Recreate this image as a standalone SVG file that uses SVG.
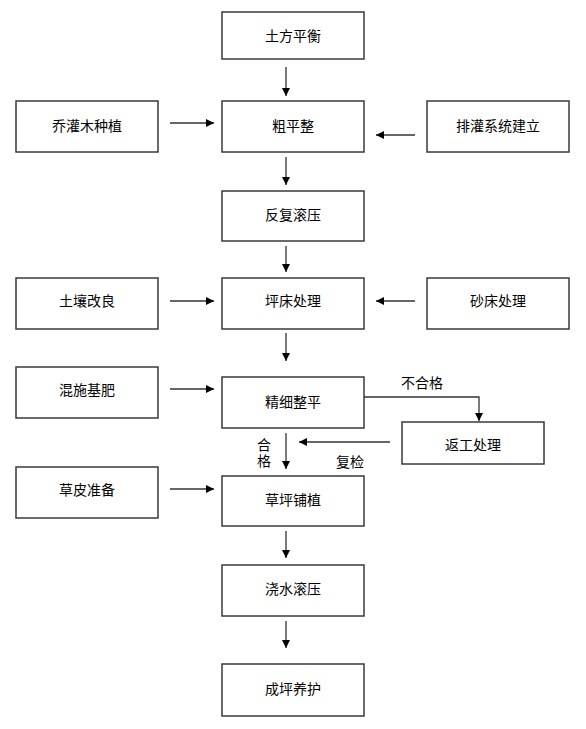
<svg xmlns="http://www.w3.org/2000/svg" width="586" height="729" viewBox="0 0 586 729">
<style>
.b{fill:#fff;stroke:#3a3a3a;stroke-width:1.5}
.t{font-family:"Liberation Sans","Noto Sans CJK SC",sans-serif;font-size:14px;fill:#000;text-anchor:middle;dominant-baseline:central}
.l{font-family:"Liberation Sans","Noto Sans CJK SC",sans-serif;font-size:14px;fill:#000}
.c{fill:none;stroke:#333;stroke-width:1.3}
</style>
<defs>
<marker id="a" viewBox="0 0 10 10" refX="10" refY="5" markerWidth="8" markerHeight="8" markerUnits="userSpaceOnUse" orient="auto"><path d="M0,0L10,5L0,10z" fill="#000"/></marker>
</defs>
<rect width="586" height="729" fill="#fff"/>
<g id="n1"><rect class="b" x="222" y="12" width="142" height="47"/><text class="t" x="293" y="36">土方平衡</text></g>
<g id="n2"><rect class="b" x="222" y="101" width="142" height="51"/><text class="t" x="293" y="126">粗平整</text></g>
<g id="n3"><rect class="b" x="16" y="101" width="142" height="51"/><text class="t" x="87" y="126">乔灌木种植</text></g>
<g id="n4"><rect class="b" x="427" y="101" width="142" height="51"/><text class="t" x="498" y="126">排灌系统建立</text></g>
<g id="n5"><rect class="b" x="222" y="191" width="142" height="50"/><text class="t" x="293" y="215">反复滚压</text></g>
<g id="n6"><rect class="b" x="16" y="278" width="142" height="51"/><text class="t" x="87" y="301">土壤改良</text></g>
<g id="n7"><rect class="b" x="222" y="278" width="142" height="51"/><text class="t" x="293" y="301">坪床处理</text></g>
<g id="n8"><rect class="b" x="427" y="278" width="142" height="51"/><text class="t" x="498" y="301">砂床处理</text></g>
<g id="n9"><rect class="b" x="16" y="367" width="142" height="51"/><text class="t" x="87" y="390">混施基肥</text></g>
<g id="n10"><rect class="b" x="222" y="377" width="142" height="51"/><text class="t" x="293" y="402">精细整平</text></g>
<g id="n11"><rect class="b" x="402" y="422" width="142" height="42"/><text class="t" x="473" y="445">返工处理</text></g>
<g id="n12"><rect class="b" x="16" y="467" width="142" height="51"/><text class="t" x="87" y="490">草皮准备</text></g>
<g id="n13"><rect class="b" x="222" y="476" width="142" height="50"/><text class="t" x="293" y="500">草坪铺植</text></g>
<g id="n14"><rect class="b" x="222" y="565" width="142" height="51"/><text class="t" x="293" y="589">浇水滚压</text></g>
<g id="n15"><rect class="b" x="222" y="664" width="142" height="52"/><text class="t" x="293" y="689">成坪养护</text></g>
<g id="edges">
<line class="c" x1="286" y1="67" x2="286" y2="96" marker-end="url(#a)"/>
<line class="c" x1="170" y1="123" x2="214" y2="123" marker-end="url(#a)"/>
<line class="c" x1="415" y1="135" x2="376" y2="135" marker-end="url(#a)"/>
<line class="c" x1="286" y1="157" x2="286" y2="185" marker-end="url(#a)"/>
<line class="c" x1="286" y1="246" x2="286" y2="272" marker-end="url(#a)"/>
<line class="c" x1="170" y1="301" x2="214" y2="301" marker-end="url(#a)"/>
<line class="c" x1="415" y1="301" x2="376" y2="301" marker-end="url(#a)"/>
<line class="c" x1="286" y1="333" x2="286" y2="361" marker-end="url(#a)"/>
<line class="c" x1="170" y1="389" x2="214" y2="389" marker-end="url(#a)"/>
<polyline class="c" points="364,397 479,397 479,421" marker-end="url(#a)"/>
<line class="c" x1="390" y1="442" x2="299" y2="442" marker-end="url(#a)"/>
<line class="c" x1="286" y1="433" x2="286" y2="469" marker-end="url(#a)"/>
<line class="c" x1="170" y1="489" x2="214" y2="489" marker-end="url(#a)"/>
<line class="c" x1="286" y1="531" x2="286" y2="558" marker-end="url(#a)"/>
<line class="c" x1="286" y1="621" x2="286" y2="648" marker-end="url(#a)"/>
</g>
<text class="l" x="401" y="388">不合格</text>
<text class="l" x="257" y="450">合</text>
<text class="l" x="257" y="466">格</text>
<text class="l" x="336" y="467">复检</text>
</svg>
